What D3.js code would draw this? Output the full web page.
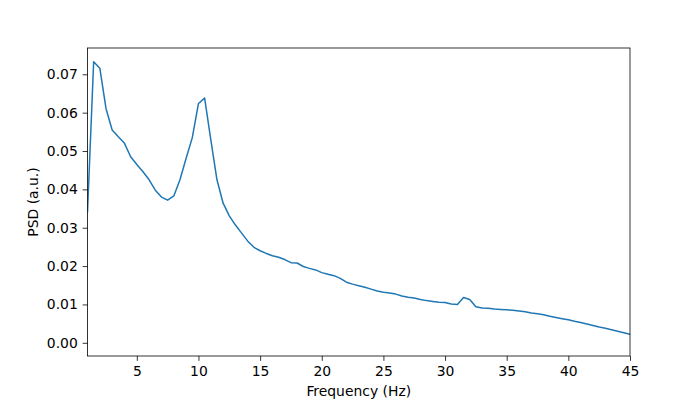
<!DOCTYPE html>
<html><head><meta charset="utf-8">
<script src="https://cdn.jsdelivr.net/npm/d3@7"></script>
<style>body{margin:0;background:#fff} text{font-family:"DejaVu Sans",sans-serif}</style>
</head><body><svg id="c" width="700" height="400"></svg>
<script>
const freqs = [1.0,1.5,2.0,2.5,3.0,3.5,4.0,4.5,5.0,5.5,6.0,6.5,7.0,7.5,8.0,8.5,9.0,9.5,10.0,10.5,11.0,11.5,12.0,12.5,13.0,13.5,14.0,14.5,15.0,15.5,16.0,16.5,17.0,17.5,18.0,18.5,19.0,19.5,20.0,20.5,21.0,21.5,22.0,22.5,23.0,23.5,24.0,24.5,25.0,25.5,26.0,26.5,27.0,27.5,28.0,28.5,29.0,29.5,30.0,30.5,31.0,31.5,32.0,32.5,33.0,33.5,34.0,34.5,35.0,35.5,36.0,36.5,37.0,37.5,38.0,38.5,39.0,39.5,40.0,40.5,41.0,41.5,42.0,42.5,43.0,43.5,44.0,44.5,45.0,45.5];
const psd = [0.0340,0.0733,0.0716,0.0611,0.0555,0.0537,0.0520,0.0485,0.0465,0.0446,0.0425,0.0398,0.0380,0.0372,0.0383,0.0425,0.0481,0.0535,0.0624,0.0638,0.0530,0.0425,0.0364,0.0331,0.0307,0.0286,0.0265,0.0249,0.0240,
 0.0233,0.0227,0.0223,0.0217,0.0209,0.0208,0.0199,0.0194,0.0190,0.0183,0.0179,0.0175,0.0168,0.0158,0.0153,0.0149,
 0.0145,0.0140,0.0135,0.0132,0.0130,0.0127,0.0122,0.0119,0.0117,0.0113,0.0110,0.0108,0.0106,0.0105,0.0101,0.0100,0.0118,0.0113,0.0094,0.0091,0.0090,0.0088,0.0087,0.0086,0.0085,0.0083,0.0081,0.0078,0.0076,0.0073,0.0069,0.0066,0.0063,0.0060,0.0056,0.0053,0.0049,0.0045,0.0041,0.0038,0.0034,0.0030,0.0026,0.0022,0.0019];
const xTicks = [5,10,15,20,25,30,35,40,45];
const yTicks = [0.00,0.01,0.02,0.03,0.04,0.05,0.06,0.07];
const xDomain = [1,45];
const yDomain = [-0.00344,0.07686];
const xLabel = "Frequency (Hz)";
const yLabel = "PSD (a.u.)";

const L=87.5,R=630,T=48,B=356;
const svg=d3.select("#c");
const x=d3.scaleLinear().domain(xDomain).range([L,R]);
const y=d3.scaleLinear().domain(yDomain).range([B,T]);

svg.append("defs").append("clipPath").attr("id","clip").append("rect")
  .attr("x",L).attr("y",T).attr("width",R-L).attr("height",B-T);

const data=freqs.map((f,i)=>[f,psd[i]]);
svg.append("path").datum(data).attr("clip-path","url(#clip)")
  .attr("fill","none").attr("stroke","#1f77b4").attr("stroke-width",1.5)
  .attr("stroke-linejoin","round")
  .attr("d",d3.line().x(d=>x(d[0])).y(d=>y(d[1])));

const fs="13.9px";
const xa=svg.append("g").attr("transform",`translate(0,${B})`)
  .call(d3.axisBottom(x).tickValues(xTicks).tickFormat(d3.format("d")).tickSizeInner(4.86).tickSizeOuter(0).tickPadding(4.86));
const ya=svg.append("g").attr("transform",`translate(${L},0)`)
  .call(d3.axisLeft(y).tickValues(yTicks).tickFormat(d3.format(".2f")).tickSizeInner(4.86).tickSizeOuter(0).tickPadding(4.86));
[xa,ya].forEach(a=>{
  a.select(".domain").remove();
  a.selectAll("line").attr("stroke","#000").attr("stroke-width",0.8);
  a.selectAll("text").attr("fill","#000").style("font-size",fs).style("font-family","DejaVu Sans");
});

svg.append("rect").attr("x",L).attr("y",T).attr("width",R-L).attr("height",B-T)
  .attr("fill","none").attr("stroke","#000").attr("stroke-width",0.8);

svg.append("text").attr("x",(L+R)/2).attr("y",396).attr("text-anchor","middle")
  .style("font-size",fs).text(xLabel);
svg.append("text").attr("transform",`translate(38,${(T+B)/2}) rotate(-90)`).attr("text-anchor","middle")
  .style("font-size",fs).text(yLabel);
</script></body></html>
